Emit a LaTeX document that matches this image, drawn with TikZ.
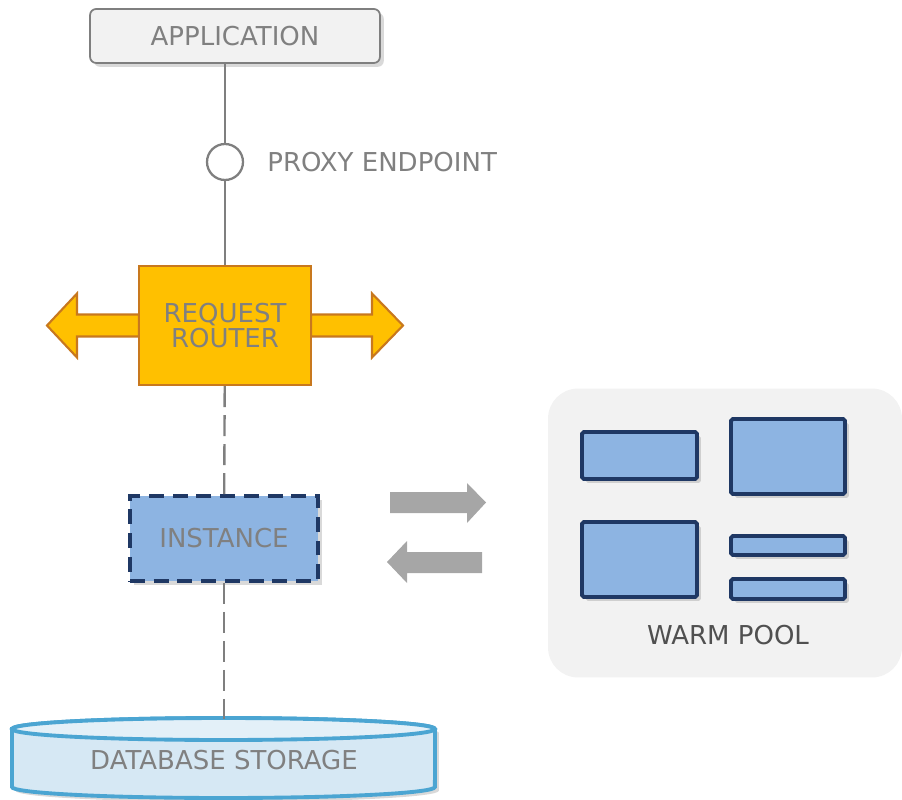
\documentclass[tikz,border=0pt]{standalone}
\usepackage{fontspec}
\setmainfont{DejaVu Sans}
\usetikzlibrary{shadows}
\definecolor{txtgray}{RGB}{128,128,128}
\definecolor{linegray}{RGB}{127,127,127}
\definecolor{appfill}{RGB}{242,242,242}
\definecolor{routerfill}{RGB}{255,192,0}
\definecolor{routerdraw}{RGB}{200,120,30}
\definecolor{instfill}{RGB}{141,180,226}
\definecolor{instdraw}{RGB}{31,56,100}
\definecolor{movegray}{RGB}{166,166,166}
\definecolor{poolfill}{RGB}{242,242,242}
\definecolor{pooltxt}{RGB}{80,80,80}
\definecolor{dbbody}{RGB}{214,232,244}
\definecolor{dbtop}{RGB}{227,240,248}
\definecolor{dbdraw}{RGB}{75,165,210}

\begin{document}
\begin{tikzpicture} [x=0.02cm,y=-0.02cm]
\tikzstyle{txt}=[font=\fontsize{14.8}{14.2}\selectfont,text=txtgray]
\tikzstyle{dshadow}=[drop shadow={shadow xshift=2.2pt,shadow yshift=-2.2pt,opacity=.3}]
\tikzstyle{appbox}=[txt,rectangle,rounded corners=3.5pt,draw=linegray,fill=appfill,line width=1pt,minimum width=5.8cm,minimum height=1.08cm,dshadow]
\tikzstyle{endpoint}=[circle,draw=linegray,fill=white,line width=1.3pt,minimum size=0.72cm,inner sep=0pt]
\tikzstyle{routerbox}=[txt,rectangle,draw=routerdraw,fill=routerfill,line width=1.2pt,minimum width=3.44cm,minimum height=2.38cm,align=center]
\tikzstyle{routerarrow}=[draw=routerdraw,fill=routerfill,line width=1.2pt,line join=miter]
\tikzstyle{instbox}=[txt,rectangle,draw=instdraw,fill=instfill,line width=2.2pt,dash pattern=on 8.5pt off 5pt,minimum width=3.76cm,minimum height=1.7cm,dshadow]
\tikzstyle{warmbox}=[rectangle,draw=instdraw,fill=instfill,line width=2.2pt,rounded corners=1pt,dshadow]
\tikzstyle{wire}=[draw=linegray,line width=1.35pt]
\tikzstyle{dashwire}=[wire,dash pattern=on 12pt off 4.5pt]

\useasboundingbox (0,0) rectangle (902,800);

% request router arrows, under the box
\path[routerarrow] (139,314.5) -- (77,314.5) -- (77,293.5) -- (47,325.5) -- (77,357.5) -- (77,336.5) -- (139,336.5) -- cycle;
\path[routerarrow] (311,314.5) -- (372,314.5) -- (372,293.5) -- (403,325.5) -- (372,357.5) -- (372,336.5) -- (311,336.5) -- cycle;

\node at(235,36)(app) [appbox]{APPLICATION};
\node at(225,162)(proxy) [endpoint]{};
\node at(267,162)(proxytxt) [txt,anchor=west,inner sep=0pt]{PROXY ENDPOINT};
\node at(225,325.5)(router) [routerbox]{REQUEST\\ROUTER};
\node at(224,538.5)(inst) [instbox]{INSTANCE};

% database storage
\path[draw=dbdraw,fill=dbbody,line width=2.2pt,dshadow] (12,729) -- (12,787) arc[start angle=180,end angle=360,x radius=4.23cm,y radius=0.22cm] -- (435,729) arc[start angle=0,end angle=180,x radius=4.23cm,y radius=0.22cm] -- cycle;
\draw[draw=dbdraw,fill=dbtop,line width=2.2pt] (223.5,729) ellipse [x radius=4.23cm,y radius=0.22cm];
\node at(224,760)(db) [txt,minimum width=8.46cm,minimum height=1.64cm]{DATABASE STORAGE};

\draw[wire] (app.south -| proxy) -- (proxy);
\draw[wire] (proxy) -- (router);
\draw[dashwire] (router) -- (inst);
\draw[dashwire] (inst) -- (db.north);

% moves to and from the pool
\fill[movegray] (390,492) -- (467,492) -- (467,483) -- (486,502.5) -- (467,523) -- (467,513) -- (390,513) -- cycle;
\fill[movegray] (482,552) -- (407,552) -- (407,541) -- (387,562) -- (407,583) -- (407,573) -- (482,573) -- cycle;

% warm pool
\node at(725,533)(pool) [rectangle,rounded corners=0.6cm,fill=poolfill,minimum width=7.08cm,minimum height=5.78cm]{};
\node at(639.5,455.5)(w1) [warmbox,minimum width=2.3cm,minimum height=0.94cm]{};
\node at(788,456.5)(w2) [warmbox,minimum width=2.28cm,minimum height=1.5cm]{};
\node at(639.5,559.5)(w3) [warmbox,minimum width=2.3cm,minimum height=1.5cm]{};
\node at(788,545.5)(w4) [warmbox,minimum width=2.28cm,minimum height=0.38cm]{};
\node at(788,589)(w5) [warmbox,minimum width=2.28cm,minimum height=0.4cm]{};
\node at(728,635)(pooltxt) [txt,text=pooltxt]{WARM POOL};
\end{tikzpicture}
\end{document}
